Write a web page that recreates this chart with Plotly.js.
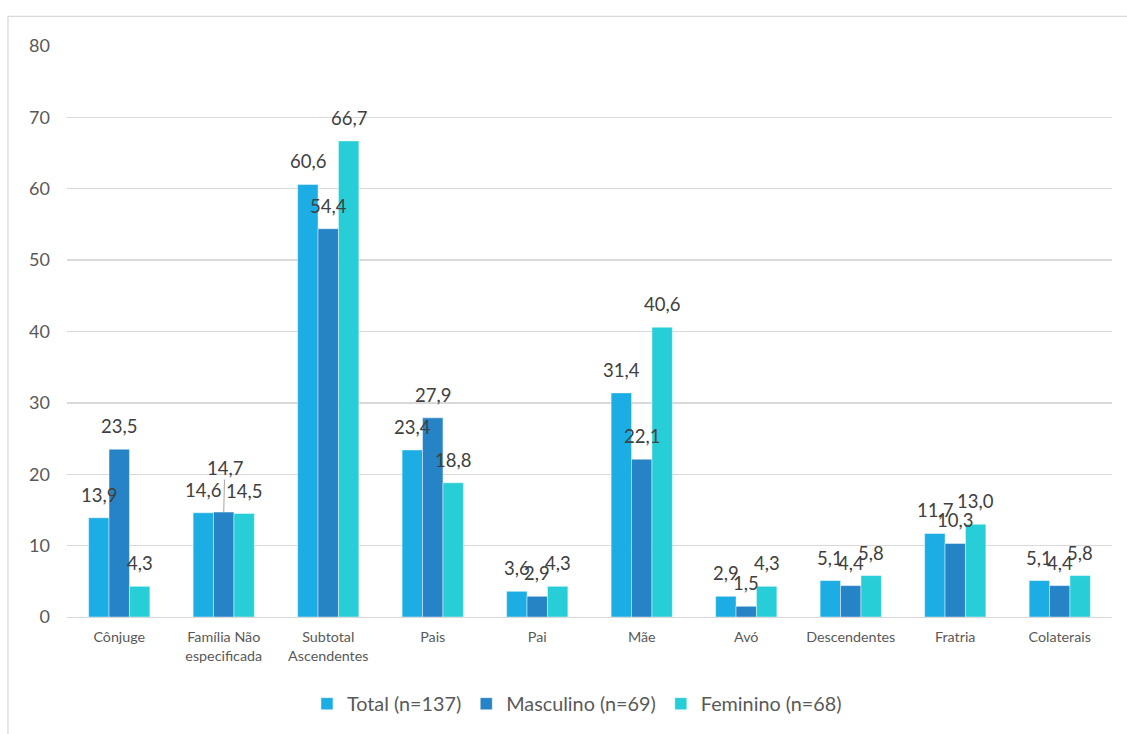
<!DOCTYPE html>
<html>
<head>
<meta charset="utf-8">
<script src="https://cdn.plot.ly/plotly-3.0.1.min.js"></script>
<style>
  html, body { margin: 0; padding: 0; background: #fff; }
  #chart { width: 1127px; height: 734px; }
</style>
</head>
<body>
<div id="chart"></div>
<script>
// ---- data ----
const categories = [
  "Cônjuge", "Família Não<br>especificada", "Subtotal<br>Ascendentes", "Pais", "Pai",
  "Mãe", "Avó", "Descendentes", "Fratria", "Colaterais"
];
const seriesNames = ["Total (n=137)", "Masculino (n=69)", "Feminino (n=68)"];
const totalValues     = [13.9, 14.6, 60.6, 23.4, 3.6, 31.4, 2.9, 5.1, 11.7, 5.1];
const masculinoValues = [23.5, 14.7, 54.4, 27.9, 2.9, 22.1, 1.5, 4.4, 10.3, 4.4];
const femininoValues  = [4.3, 14.5, 66.7, 18.8, 4.3, 40.6, 4.3, 5.8, 13.0, 5.8];
const yTicks = [0, 10, 20, 30, 40, 50, 60, 70, 80];

// ---- style ----
const colors = ["#1CADE4", "#2683C6", "#27CED7"];
const allSeries = [totalValues, masculinoValues, femininoValues];
const barPx = 20.4;   // pixel width of one bar (used to shift labels)
const FONT = "Lato, 'Open Sans', sans-serif";

const traces = allSeries.map((vals, s) => ({
  type: "bar",
  name: seriesNames[s],
  x: categories,
  y: vals,
  marker: { color: colors[s], line: { color: "rgba(255,255,255,0.55)", width: 0.8 } },
  hoverinfo: "x+y+name"
}));

const fmt = v => v.toFixed(1).replace(".", ",");

const annotations = [];
allSeries.forEach((vals, s) => {
  vals.forEach((v, i) => {
    const leader = (s === 1 && i === 1); // label lifted with a leader line in the original
    const a = {
      x: categories[i], y: v, xref: "x", yref: "y",
      text: fmt(v),
      font: { family: FONT, size: 18.5, color: "#404040" },
      xshift: (s - 1) * barPx,
      xanchor: "center", yanchor: "middle"
    };
    if (leader) {
      a.showarrow = true;
      a.arrowhead = 0;
      a.arrowwidth = 1;
      a.arrowcolor = "#A6A6A6";
      a.ax = 1;
      a.ay = -44;
      a.standoff = 0;
      a.borderpad = 0;
    } else {
      a.showarrow = false;
      a.yshift = 23;
    }
    annotations.push(a);
  });
});

const layout = {
  width: 1127,
  height: 734,
  margin: { l: 67, r: 15, t: 46, b: 117, autoexpand: false },
  paper_bgcolor: "#ffffff",
  plot_bgcolor: "#ffffff",
  barmode: "group",
  bargap: 0.414,
  bargroupgap: 0,
  font: { family: FONT, color: "#595959" },
  xaxis: {
    type: "category",
    showgrid: false,
    showline: true,
    linecolor: "#D9D9D9",
    linewidth: 1.3,
    ticks: "",
    tickfont: { family: FONT, size: 14.3, color: "#595959" },
    ticklabelstandoff: 7,
    zeroline: false,
    fixedrange: true
  },
  yaxis: {
    range: [0, 80],
    tickvals: yTicks,
    ticktext: yTicks.map(String),
    showgrid: true,
    gridcolor: "#D9D9D9",
    gridwidth: 1.3,
    zeroline: false,
    showline: false,
    ticks: "",
    tickfont: { family: FONT, size: 18, color: "#595959" },
    ticklabelstandoff: 16,
    fixedrange: true
  },
  showlegend: true,
  legend: {
    orientation: "h",
    x: 0.488, xanchor: "center",
    y: -0.152, yanchor: "middle",
    font: { family: FONT, size: 19.8, color: "#595959" },
    itemwidth: 30,
    traceorder: "normal",
    bgcolor: "rgba(0,0,0,0)"
  },
  annotations: annotations,
  shapes: [
    { type: "line", xref: "paper", yref: "paper", x0: -0.0565, x1: -0.0565, y0: 1.052, y1: -0.3,
      line: { color: "#D9D9D9", width: 1.3 } },
    { type: "line", xref: "paper", yref: "paper", x0: -0.0565, x1: 1.1, y0: 1.052, y1: 1.052,
      line: { color: "#D9D9D9", width: 1.3 } }
  ]
};

Plotly.newPlot("chart", traces, layout, { displayModeBar: false, staticPlot: true });
</script>
</body>
</html>
